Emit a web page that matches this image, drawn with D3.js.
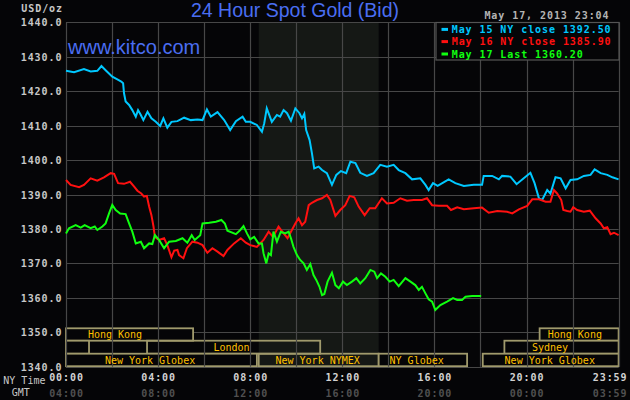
<!DOCTYPE html>
<html><head><meta charset="utf-8">
<script src="https://cdn.jsdelivr.net/npm/d3@7"></script>
<style>
html,body{margin:0;padding:0;background:#050507;overflow:hidden;}
svg{display:block;}
</style></head><body>
<svg id="chart" width="630" height="400"></svg>
<script>
// ---------- data ----------
const tickHours = [0, 4, 8, 12, 16, 20, 24];
const nyTickLabels = ["00:00", "04:00", "08:00", "12:00", "16:00", "20:00", "23:59"];
const gmtTickLabels = ["04:00", "08:00", "12:00", "16:00", "20:00", "00:00", "03:59"];
const gridHours = [0, 2, 4, 6, 8, 10, 12, 14, 16, 18, 20, 22, 24];
const priceTicks = [1340, 1350, 1360, 1370, 1380, 1390, 1400, 1410, 1420, 1430, 1440];

const may15 = [[0,1425.9],[0.35,1425.5],[0.78,1426.4],[1.07,1425.7],[1.36,1425.9],[1.54,1427.3],[1.72,1426.1],[2.01,1424.2],[2.23,1423.4],[2.40,1422.8],[2.48,1422.3],[2.52,1419.4],[2.59,1417.0],[2.74,1416.0],[2.88,1414.5],[3.03,1412.6],[3.13,1414.5],[3.25,1413.1],[3.36,1411.6],[3.54,1414.0],[3.71,1412.1],[3.90,1411.1],[4.09,1409.9],[4.23,1412.1],[4.40,1409.4],[4.58,1411.1],[4.84,1411.3],[5.13,1412.3],[5.42,1411.6],[5.71,1411.8],[5.93,1411.6],[6.12,1414.7],[6.29,1412.6],[6.58,1413.9],[6.87,1411.6],[7.13,1408.7],[7.38,1411.3],[7.67,1412.6],[7.81,1411.1],[8.0,1411.1],[8.29,1410.2],[8.51,1408.2],[8.61,1410.7],[8.72,1415.0],[8.94,1411.1],[9.16,1413.1],[9.30,1412.6],[9.45,1414.5],[9.60,1413.6],[9.77,1411.4],[9.96,1415.0],[10.14,1413.6],[10.25,1412.1],[10.35,1413.4],[10.43,1408.7],[10.58,1405.8],[10.68,1402.0],[10.78,1397.6],[10.97,1398.1],[11.12,1397.1],[11.33,1396.2],[11.55,1392.8],[11.74,1395.7],[11.94,1396.8],[12.17,1396.2],[12.35,1399.5],[12.57,1399.1],[12.78,1396.3],[13.07,1395.4],[13.36,1396.2],[13.65,1398.6],[13.94,1398.1],[14.23,1398.6],[14.45,1397.1],[14.74,1396.2],[15.03,1394.4],[15.39,1394.7],[15.61,1392.8],[15.75,1391.3],[15.94,1393.3],[16.14,1392.5],[16.62,1394.4],[16.91,1393.3],[17.28,1392.5],[17.71,1392.8],[18.07,1392.8],[18.14,1395.4],[18.51,1395.4],[18.80,1394.4],[18.94,1395.4],[19.30,1395.2],[19.57,1393.0],[19.88,1394.7],[20.17,1396.3],[20.35,1393.3],[20.54,1388.9],[20.68,1388.4],[20.90,1391.3],[21.04,1390.3],[21.26,1395.0],[21.48,1394.7],[21.70,1391.8],[21.91,1394.2],[22.20,1394.4],[22.49,1395.4],[22.78,1395.7],[22.96,1397.3],[23.22,1396.2],[23.51,1395.7],[23.73,1395.0],[24.0,1394.4]];

const may16 = [[0,1394.2],[0.2,1392.8],[0.57,1392.1],[0.78,1392.8],[1.07,1394.7],[1.36,1394.0],[1.65,1395.0],[1.94,1396.2],[2.09,1396.0],[2.26,1393.3],[2.52,1393.1],[2.78,1393.7],[2.96,1392.3],[3.10,1391.1],[3.27,1390.3],[3.39,1389.4],[3.51,1389.6],[3.61,1386.5],[3.71,1384.0],[3.80,1380.7],[3.86,1377.7],[4.04,1376.8],[4.26,1377.3],[4.40,1375.3],[4.58,1371.8],[4.70,1373.7],[4.84,1373.9],[4.91,1372.4],[5.10,1371.5],[5.25,1374.4],[5.49,1376.3],[5.71,1376.0],[5.93,1375.3],[6.14,1373.1],[6.36,1374.4],[6.58,1373.4],[6.84,1372.1],[7.01,1373.9],[7.30,1375.8],[7.59,1377.3],[7.81,1376.0],[8.0,1375.3],[8.29,1374.8],[8.58,1376.8],[8.80,1379.2],[8.99,1377.7],[9.23,1380.7],[9.45,1378.7],[9.62,1377.3],[9.77,1379.2],[9.96,1381.6],[10.10,1383.1],[10.25,1381.1],[10.39,1382.1],[10.54,1386.9],[10.68,1387.6],[10.90,1388.4],[11.12,1388.9],[11.33,1389.9],[11.48,1388.4],[11.70,1383.8],[11.91,1385.5],[12.13,1386.9],[12.32,1389.6],[12.52,1389.2],[12.71,1386.5],[12.97,1384.0],[13.19,1386.0],[13.43,1386.0],[13.72,1388.9],[13.94,1387.4],[14.23,1387.6],[14.52,1388.9],[14.81,1388.2],[15.10,1388.4],[15.46,1388.4],[15.68,1388.9],[15.90,1386.9],[16.19,1386.7],[16.55,1386.7],[16.72,1385.5],[16.99,1386.3],[17.28,1385.7],[17.71,1386.0],[18.07,1386.2],[18.36,1384.7],[18.73,1385.2],[19.16,1385.0],[19.38,1384.5],[19.67,1385.7],[20.03,1386.7],[20.25,1388.6],[20.54,1388.6],[20.83,1387.9],[21.04,1387.9],[21.19,1391.3],[21.33,1390.3],[21.51,1388.4],[21.60,1385.5],[21.77,1385.2],[21.91,1385.0],[22.03,1386.3],[22.20,1385.5],[22.49,1385.0],[22.75,1385.3],[23.0,1383.1],[23.22,1381.6],[23.36,1380.2],[23.51,1380.5],[23.65,1378.5],[23.80,1378.9],[24.0,1378.2]];

const may17 = [[0,1378.7],[0.13,1380.2],[0.42,1381.1],[0.64,1380.4],[0.81,1381.1],[1.07,1380.2],[1.25,1380.7],[1.36,1379.7],[1.58,1380.7],[1.72,1381.6],[1.87,1384.5],[2.01,1387.0],[2.16,1385.5],[2.35,1384.5],[2.59,1384.3],[2.74,1381.6],[2.88,1379.2],[3.03,1375.8],[3.25,1376.3],[3.39,1374.4],[3.61,1375.8],[3.75,1375.6],[3.86,1378.2],[4.04,1376.8],[4.26,1374.4],[4.48,1376.3],[4.77,1376.5],[5.06,1377.3],[5.27,1376.0],[5.46,1378.2],[5.59,1376.8],[5.83,1378.2],[5.93,1381.6],[6.22,1381.8],[6.51,1382.1],[6.75,1382.6],[6.90,1381.6],[7.01,1379.5],[7.38,1378.5],[7.57,1379.7],[7.71,1380.8],[7.86,1378.7],[8.0,1377.0],[8.17,1377.7],[8.36,1375.8],[8.51,1375.8],[8.58,1372.9],[8.70,1370.0],[8.80,1372.9],[8.90,1372.4],[9.01,1379.2],[9.16,1376.3],[9.33,1379.2],[9.52,1378.7],[9.67,1379.2],[9.77,1377.3],[9.88,1374.8],[10.03,1372.4],[10.17,1371.0],[10.32,1370.0],[10.46,1368.1],[10.61,1369.8],[10.75,1366.6],[10.87,1365.2],[11.01,1363.2],[11.12,1360.8],[11.22,1361.1],[11.36,1364.7],[11.55,1367.3],[11.70,1363.7],[11.85,1362.8],[12.03,1364.7],[12.20,1363.7],[12.42,1364.7],[12.61,1365.7],[12.78,1364.2],[13.0,1365.7],[13.22,1368.1],[13.39,1367.6],[13.51,1365.7],[13.68,1367.1],[13.87,1366.1],[14.06,1364.7],[14.23,1365.2],[14.45,1363.4],[14.74,1365.7],[14.96,1364.7],[15.17,1363.7],[15.32,1362.3],[15.46,1363.2],[15.61,1361.3],[15.75,1359.6],[15.90,1358.9],[16.04,1356.5],[16.26,1357.9],[16.55,1358.9],[16.81,1359.9],[16.99,1359.4],[17.20,1359.4],[17.35,1360.3],[17.64,1360.5],[18.03,1360.5]];

const legendLabels = ["May 15 NY close 1392.50", "May 16 NY close 1385.90", "May 17 Last 1360.20"];
const seriesColors = ["#00c8ff", "#ff1010", "#10ff10"];

const sessionNames  = ["Hong Kong", "Hong Kong", "", "London", "Sydney", "New York Globex", "New York NYMEX", "NY Globex", "New York Globex"];
const sessionRows   = [0, 0, 1, 1, 1, 2, 2, 2, 2];
const sessionStarts = [0, 20.57, 0, 3.52, 19.04, 0, 8.37, 13.58, 18.1];
const sessionEnds   = [5.52, 24, 1.0, 11.04, 24, 8.29, 13.58, 17.42, 24];
const sessionLabelAt = [2.13, 22.1, 0.5, 7.19, 21.02, 3.65, 10.93, 15.23, 21.01];
const nymexHours = [8.37, 13.58];

// ---------- layout ----------
const svg = d3.select("#chart");
const W = 630, H = 400;
const pLeft = 66, pRight = 618.6, pTop = 22.3, pBottom = 366.7;
const bg = "#050507";
const gridColor = "#474747";
const mono = "'DejaVu Sans Mono', 'Liberation Mono', monospace";
const sans = "'Liberation Sans', Arial, sans-serif";

// pixel-font look: 10px mono glyphs on a ~6.95px pitch
function monoStyle(sel, bold) {
  sel.style("font-family", mono).style("font-size", "10px")
     .style("letter-spacing", "0.93px")
     .style("font-weight", bold ? "bold" : "normal");
  return sel;
}

const x = d3.scaleLinear().domain([0, 24]).range([pLeft, pRight]);
const y = d3.scaleLinear().domain([1340, 1440]).range([pBottom, pTop]);

svg.append("rect").attr("width", W).attr("height", H).attr("fill", bg);

// NYMEX shading
svg.append("rect")
  .attr("x", x(nymexHours[0])).attr("y", pTop)
  .attr("width", x(nymexHours[1]) - x(nymexHours[0]))
  .attr("height", pBottom - pTop)
  .attr("fill", "#151815");

// horizontal grid
svg.append("g").selectAll("line").data(priceTicks).join("line")
  .attr("x1", pLeft).attr("x2", pRight)
  .attr("y1", d => Math.round(y(d)) + 0.5).attr("y2", d => Math.round(y(d)) + 0.5)
  .attr("stroke", gridColor).attr("stroke-width", 1.2);

// session boxes
const rowTops = [328.3, 340.7, 353.7];
const rowBottoms = [340.7, 353.7, 366.2];
const sIdx = d3.range(sessionNames.length);
const overlapsShade = i => sessionEnds[i] > nymexHours[0] && sessionStarts[i] < nymexHours[1];
svg.append("g").selectAll("rect").data(sIdx).join("rect")
  .attr("x", i => x(sessionStarts[i]))
  .attr("y", i => rowTops[sessionRows[i]])
  .attr("width", i => x(sessionEnds[i]) - x(sessionStarts[i]))
  .attr("height", i => rowBottoms[sessionRows[i]] - rowTops[sessionRows[i]])
  .attr("fill", i => overlapsShade(i) ? "none" : bg)
  .attr("stroke", "#a09a6c").attr("stroke-width", 1.8);

// vertical grid
svg.append("g").selectAll("line").data(gridHours).join("line")
  .attr("y1", pTop).attr("y2", pBottom)
  .attr("x1", d => Math.round(x(d)) + 0.5).attr("x2", d => Math.round(x(d)) + 0.5)
  .attr("stroke", gridColor).attr("stroke-width", 1.2);

// session labels
svg.append("g").selectAll("text").data(sIdx.filter(i => sessionNames[i])).join("text")
  .attr("x", i => x(sessionLabelAt[i]))
  .attr("y", i => (rowTops[sessionRows[i]] + rowBottoms[sessionRows[i]]) / 2)
  .attr("dy", "0.36em").attr("text-anchor", "middle")
  .attr("fill", "#ffc000").style("font-family", mono).style("font-size", "10px")
  .text(i => sessionNames[i]);

// series
const line = d3.line().x(d => x(d[0])).y(d => y(d[1]));
[may15, may16, may17].forEach((s, k) => {
  svg.append("path").datum(s).attr("d", line)
    .attr("fill", "none").attr("stroke", seriesColors[k])
    .attr("stroke-width", 2).attr("stroke-linejoin", "miter");
});

// y axis labels
const yAxis = svg.append("g").attr("transform", `translate(${pLeft},0)`)
  .call(d3.axisLeft(y).tickValues(priceTicks).tickFormat(d3.format(".1f")).tickSize(0).tickPadding(3.6));
yAxis.select(".domain").remove();
monoStyle(yAxis.selectAll("text").attr("fill", "#c8c8c8").attr("dy", "0.36em"), true);

// x axis labels
function timeAxis(labels, yPos, color) {
  const g = svg.append("g").attr("transform", `translate(0,${yPos})`)
    .call(d3.axisBottom(x).tickValues(tickHours).tickFormat((d, i) => labels[i]).tickSize(0).tickPadding(0));
  g.select(".domain").remove();
  monoStyle(g.selectAll("text").attr("fill", color).attr("y", 0).attr("dy", "0.36em"), true);
  g.selectAll(".tick").filter(d => d === 24).select("text")
    .attr("text-anchor", "end").attr("x", 627 - pRight);
}
timeAxis(nyTickLabels, 377.7, "#d2d2d2");
timeAxis(gmtTickLabels, 393.7, "#505050");

svg.append("text").attr("x", 3.3).attr("y", 380.3).attr("dy", "0.36em")
  .attr("fill", "#c8c8c8").style("font-family", mono).style("font-size", "10px").text("NY Time");
svg.append("text").attr("x", 11.7).attr("y", 392.5).attr("dy", "0.36em")
  .attr("fill", "#c8c8c8").style("font-family", mono).style("font-size", "10px").text("GMT");

// unit label
monoStyle(svg.append("text").attr("x", 63).attr("y", 8.3).attr("dy", "0.36em").attr("text-anchor", "end")
  .attr("fill", "#c8c8c8"), true).text("USD/oz");

// title + site
svg.append("text").attr("x", 295).attr("y", 17).attr("text-anchor", "middle")
  .attr("fill", "#4a6ef2").style("font-family", sans).style("font-size", "19.5px")
  .text("24 Hour Spot Gold (Bid)");
svg.append("text").attr("x", 68).attr("y", 54.3)
  .attr("fill", "#4a6ef2").style("font-family", sans).style("font-size", "20px")
  .text("www.kitco.com");

// date
monoStyle(svg.append("text").attr("x", 609.5).attr("y", 15).attr("dy", "0.36em").attr("text-anchor", "end")
  .attr("fill", "#b4b4b4"), true).text("May 17, 2013 23:04");

// legend
const lg = svg.append("g");
lg.append("rect").attr("x", 436).attr("y", 22.5).attr("width", 619 - 436).attr("height", 60 - 22.5)
  .attr("fill", bg).attr("stroke", "#555").attr("stroke-width", 1.2);
const legendY = [29.4, 41.6, 54];
legendLabels.forEach((t, k) => {
  lg.append("rect").attr("x", 441.5).attr("y", legendY[k] - 1.5).attr("width", 6.5).attr("height", 3)
    .attr("fill", seriesColors[k]);
  monoStyle(lg.append("text").attr("x", 451.7).attr("y", legendY[k]).attr("dy", "0.36em")
    .attr("fill", seriesColors[k]), true).text(t);
});
</script>
</body></html>
